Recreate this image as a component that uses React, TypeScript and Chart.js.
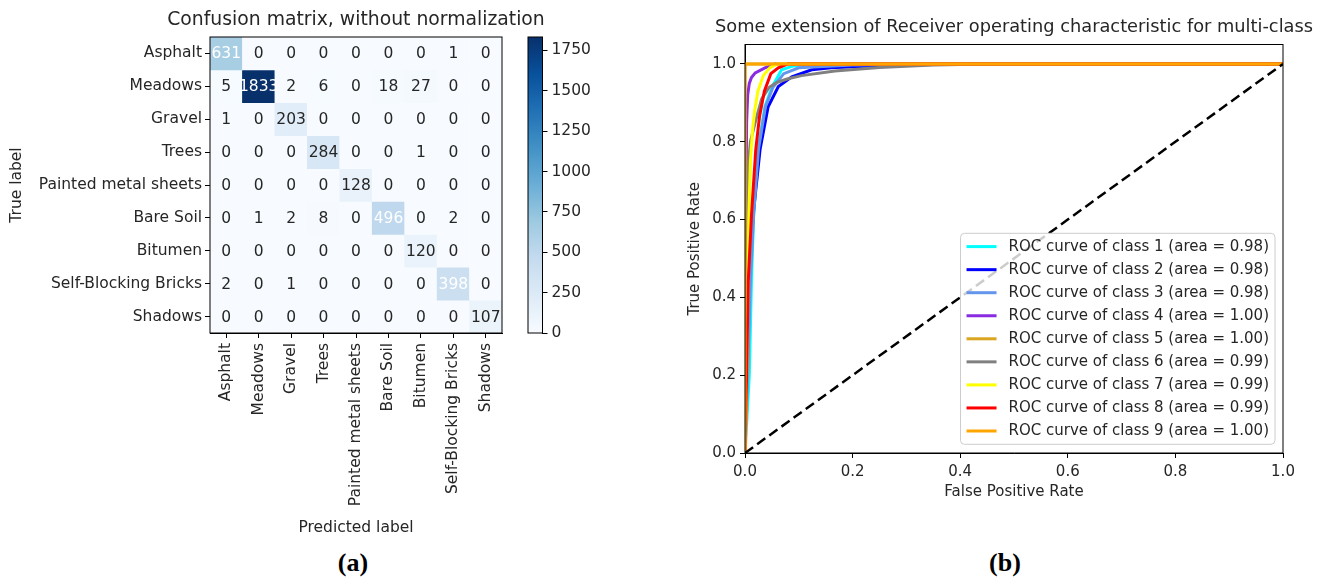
import React, { useEffect, useRef } from "react";
import { Chart, registerables } from "chart.js";

Chart.register(...registerables);

const TEXT = "#262626";
const FONT = "DejaVu Sans";

// ---------- Confusion matrix data ----------
const classLabels = [
  "Asphalt",
  "Meadows",
  "Gravel",
  "Trees",
  "Painted metal sheets",
  "Bare Soil",
  "Bitumen",
  "Self-Blocking Bricks",
  "Shadows",
];

const asphaltRow = [631, 0, 0, 0, 0, 0, 0, 1, 0];
const meadowsRow = [5, 1833, 2, 6, 0, 18, 27, 0, 0];
const gravelRow = [1, 0, 203, 0, 0, 0, 0, 0, 0];
const treesRow = [0, 0, 0, 284, 0, 0, 1, 0, 0];
const paintedRow = [0, 0, 0, 0, 128, 0, 0, 0, 0];
const bareSoilRow = [0, 1, 2, 8, 0, 496, 0, 2, 0];
const bitumenRow = [0, 0, 0, 0, 0, 0, 120, 0, 0];
const bricksRow = [2, 0, 1, 0, 0, 0, 0, 398, 0];
const shadowsRow = [0, 0, 0, 0, 0, 0, 0, 0, 107];

const confusionRows = [
  asphaltRow,
  meadowsRow,
  gravelRow,
  treesRow,
  paintedRow,
  bareSoilRow,
  bitumenRow,
  bricksRow,
  shadowsRow,
];

const colorbarTickValues = [0, 250, 500, 750, 1000, 1250, 1500, 1750];
const whiteTextThreshold = 350;

// ---------- ROC data ----------
const fpr1 = [0, 0.004, 0.008, 0.012, 0.016, 0.024, 0.037, 0.05, 0.068, 0.09, 0.2, 1];
const tpr1 = [0, 0.1, 0.2, 0.44, 0.61, 0.78, 0.89, 0.94, 0.985, 0.995, 1, 1];

const fpr2 = [0, 0.003, 0.008, 0.015, 0.028, 0.043, 0.062, 0.087, 0.124, 0.16, 0.25, 0.4, 1];
const tpr2 = [0, 0.2, 0.44, 0.61, 0.78, 0.89, 0.942, 0.967, 0.985, 0.99, 0.996, 1, 1];

const fpr3 = [0, 0.005, 0.01, 0.016, 0.025, 0.038, 0.052, 0.072, 0.1, 0.2, 0.35, 1];
const tpr3 = [0, 0.2, 0.44, 0.61, 0.78, 0.89, 0.94, 0.975, 0.99, 0.997, 1, 1];

const fpr4 = [0, 0.001, 0.003, 0.005, 0.008, 0.012, 0.019, 0.037, 0.056, 1];
const tpr4 = [0, 0.5, 0.85, 0.92, 0.95, 0.965, 0.977, 0.99, 1, 1];

const fpr5 = [0, 0, 1];
const tpr5 = [0, 1, 1];

const fpr6 = [0, 0.002, 0.005, 0.01, 0.019, 0.031, 0.045, 0.06, 0.08, 0.105, 0.167, 0.25, 0.35, 0.45, 1];
const tpr6 = [0, 0.5, 0.72, 0.8, 0.85, 0.91, 0.94, 0.953, 0.962, 0.97, 0.982, 0.991, 0.997, 1, 1];

const fpr7 = [0, 0.002, 0.004, 0.007, 0.01, 0.014, 0.018, 0.024, 0.034, 0.046, 0.06, 1];
const tpr7 = [0, 0.1, 0.27, 0.6, 0.75, 0.83, 0.88, 0.93, 0.97, 0.99, 1, 1];

const fpr8 = [0, 0.003, 0.006, 0.012, 0.02, 0.027, 0.036, 0.048, 0.062, 0.08, 1];
const tpr8 = [0, 0.2, 0.44, 0.61, 0.78, 0.865, 0.93, 0.975, 0.99, 1, 1];

const fpr9 = [0, 0, 1];
const tpr9 = [0, 1, 1];

const rocFpr = [fpr1, fpr2, fpr3, fpr4, fpr5, fpr6, fpr7, fpr8, fpr9];
const rocTpr = [tpr1, tpr2, tpr3, tpr4, tpr5, tpr6, tpr7, tpr8, tpr9];
const rocAreas = [0.98, 0.98, 0.98, 1.0, 1.0, 0.99, 0.99, 0.99, 1.0];
const rocColors = [
  "#00ffff",
  "#0000ff",
  "#6495ed",
  "#8a2be2",
  "#daa520",
  "#808080",
  "#ffff00",
  "#ff0000",
  "#ffa500",
];
const diagX = [0, 1];
const diagY = [0, 1];
const rocTickValues = [0, 0.2, 0.4, 0.6, 0.8, 1.0];

// ---------- helpers ----------
const BLUES = [
  [247, 251, 255],
  [222, 235, 247],
  [198, 219, 239],
  [158, 202, 225],
  [107, 174, 214],
  [66, 146, 198],
  [33, 113, 181],
  [8, 81, 156],
  [8, 48, 107],
];

function blues(t: number): string {
  const c = Math.max(0, Math.min(1, t)) * 8;
  const i = Math.min(7, Math.floor(c));
  const f = c - i;
  const a = BLUES[i];
  const b = BLUES[i + 1];
  const r = Math.round(a[0] + (b[0] - a[0]) * f);
  const g = Math.round(a[1] + (b[1] - a[1]) * f);
  const bl = Math.round(a[2] + (b[2] - a[2]) * f);
  return `rgb(${r},${g},${bl})`;
}

const cmMax = Math.max(...confusionRows.map((r) => Math.max(...r)));

const topTitlePlugin = {
  id: "topTitle",
  afterDraw(chart: any, _args: any, opts: any) {
    if (!opts || !opts.text) return;
    const { ctx, chartArea } = chart;
    ctx.save();
    ctx.font = `${opts.size}px "${FONT}"`;
    ctx.fillStyle = TEXT;
    ctx.textAlign = "center";
    ctx.textBaseline = "middle";
    ctx.fillText(opts.text, (chartArea.left + chartArea.right) / 2, chartArea.top - opts.offset);
    ctx.restore();
  },
};

const framePlugin = {
  id: "frame",
  afterDatasetsDraw(chart: any) {
    const { ctx, chartArea: a } = chart;
    ctx.save();
    ctx.strokeStyle = "#000";
    ctx.lineWidth = 1;
    ctx.strokeRect(a.left, a.top, a.right - a.left, a.bottom - a.top);
    ctx.restore();
  },
};

const cellTextPlugin = {
  id: "cellText",
  afterDatasetsDraw(chart: any) {
    const ctx = chart.ctx;
    ctx.save();
    ctx.font = `15.5px "${FONT}"`;
    ctx.textAlign = "center";
    ctx.textBaseline = "middle";
    confusionRows.forEach((row, i) => {
      const meta = chart.getDatasetMeta(i);
      row.forEach((v, j) => {
        const el = meta.data[j];
        if (!el) return;
        const p = el.getCenterPoint();
        ctx.fillStyle = v >= whiteTextThreshold ? "#ffffff" : TEXT;
        ctx.fillText(String(v), p.x, p.y + 1);
      });
    });
    ctx.restore();
  },
};

const rocLegendPlugin = {
  id: "rocLegend",
  afterDatasetsDraw(chart: any) {
    const { ctx, chartArea: a } = chart;
    const n = rocAreas.length;
    const ds = chart.data.datasets.slice(0, n);
    ctx.save();
    ctx.font = `15px "${FONT}"`;
    let maxW = 0;
    ds.forEach((d: any) => {
      maxW = Math.max(maxW, ctx.measureText(d.label).width);
    });
    const pad = 6;
    const handle = 30;
    const gap = 12;
    const rowGap = 23.05;
    const edge = 13.3;
    const boxW = pad + handle + gap + maxW + pad;
    const boxH = edge * 2 + rowGap * (n - 1);
    const right = a.right - 8;
    const bottom = a.bottom - 8.7;
    const left = right - boxW;
    const top = bottom - boxH;
    ctx.beginPath();
    ctx.roundRect(left, top, boxW, boxH, 4);
    ctx.fillStyle = "rgba(255,255,255,0.8)";
    ctx.fill();
    ctx.strokeStyle = "#cccccc";
    ctx.lineWidth = 1;
    ctx.stroke();
    ds.forEach((d: any, k: number) => {
      const cy = top + edge + k * rowGap;
      ctx.beginPath();
      ctx.moveTo(left + pad, cy);
      ctx.lineTo(left + pad + handle, cy);
      ctx.strokeStyle = d.borderColor;
      ctx.lineWidth = 3;
      ctx.stroke();
      ctx.fillStyle = TEXT;
      ctx.textAlign = "left";
      ctx.textBaseline = "middle";
      ctx.fillText(d.label, left + pad + handle + gap, cy + 0.5);
    });
    ctx.restore();
  },
};

const cmFont = { family: FONT, size: 15.5 };
const rocFont = { family: FONT, size: 15 };

export default function App() {
  const cmRef = useRef<HTMLCanvasElement>(null);
  const cbRef = useRef<HTMLCanvasElement>(null);
  const rocRef = useRef<HTMLCanvasElement>(null);

  useEffect(() => {
    const charts: any[] = [];

    // Confusion matrix heatmap
    if (cmRef.current) {
      charts.push(
        new Chart(cmRef.current, {
          type: "bar",
          data: {
            labels: classLabels,
            datasets: confusionRows.map((row, i) => ({
              label: classLabels[i],
              data: row.map(() => [i - 0.5, i + 0.5]),
              backgroundColor: row.map((v) => blues(v / cmMax)),
              borderWidth: 0,
              barPercentage: 1,
              categoryPercentage: 1,
              grouped: false,
            })),
          } as any,
          options: {
            animation: false,
            responsive: false,
            devicePixelRatio: 1,
            events: [],
            layout: { padding: { left: 4, top: 37, right: 58, bottom: 3.7 } },
            plugins: {
              legend: { display: false },
              tooltip: { enabled: false },
              topTitle: { text: "Confusion matrix, without normalization", size: 18.8, offset: 17 },
            } as any,
            scales: {
              x: {
                type: "category",
                offset: true,
                grid: {
                  display: true,
                  drawOnChartArea: false,
                  offset: false,
                  tickLength: 5,
                  tickColor: "#000",
                  tickWidth: 1,
                },
                border: { display: true, color: "#000" },
                ticks: {
                  autoSkip: false,
                  maxRotation: 90,
                  minRotation: 90,
                  padding: 5,
                  font: cmFont,
                  color: TEXT,
                },
                title: {
                  display: true,
                  text: "Predicted label",
                  font: cmFont,
                  color: TEXT,
                  padding: { top: 4, bottom: 4 },
                },
                afterFit: (s: any) => {
                  s.height = 208.3;
                },
              },
              y: {
                type: "linear",
                min: -0.5,
                max: 8.5,
                reverse: true,
                afterBuildTicks: (s: any) => {
                  s.ticks = classLabels.map((_, i) => ({ value: i }));
                },
                grid: {
                  display: true,
                  drawOnChartArea: false,
                  tickLength: 5,
                  tickColor: "#000",
                  tickWidth: 1,
                },
                border: { display: true, color: "#000" },
                ticks: {
                  autoSkip: false,
                  padding: 3,
                  font: cmFont,
                  color: TEXT,
                  callback: (v: any) => classLabels[v as number],
                },
                title: {
                  display: true,
                  text: "True label",
                  font: cmFont,
                  color: TEXT,
                  padding: { top: 4, bottom: 4 },
                },
                afterFit: (s: any) => {
                  s.width = 206;
                },
              },
            } as any,
          },
          plugins: [framePlugin, cellTextPlugin, topTitlePlugin],
        } as any)
      );
    }

    // Colorbar
    if (cbRef.current) {
      charts.push(
        new Chart(cbRef.current, {
          type: "bar",
          data: {
            labels: [""],
            datasets: [
              {
                data: [[0, cmMax]],
                backgroundColor: (c: any) => {
                  const chart = c.chart;
                  const ca = chart.chartArea;
                  if (!ca) return blues(0.5);
                  const g = chart.ctx.createLinearGradient(0, ca.bottom, 0, ca.top);
                  BLUES.forEach((col, k) => {
                    g.addColorStop(k / 8, `rgb(${col[0]},${col[1]},${col[2]})`);
                  });
                  return g;
                },
                borderWidth: 0,
                barPercentage: 1,
                categoryPercentage: 1,
              },
            ],
          } as any,
          options: {
            animation: false,
            responsive: false,
            devicePixelRatio: 1,
            events: [],
            layout: { padding: { left: 18, top: 37, right: 12.5, bottom: 27 } },
            plugins: { legend: { display: false }, tooltip: { enabled: false } },
            scales: {
              x: { display: false },
              y: {
                position: "right",
                min: 0,
                max: cmMax,
                afterBuildTicks: (s: any) => {
                  s.ticks = colorbarTickValues.map((v) => ({ value: v }));
                },
                grid: {
                  display: true,
                  drawOnChartArea: false,
                  tickLength: 5,
                  tickColor: "#000",
                  tickWidth: 1,
                },
                border: { display: true, color: "#000" },
                ticks: { padding: 4, font: cmFont, color: TEXT, callback: (v: any) => String(v) },
                afterFit: (s: any) => {
                  s.width = 55;
                },
              },
            } as any,
          },
          plugins: [framePlugin],
        } as any)
      );
    }

    // ROC curves
    if (rocRef.current) {
      const rocDatasets = rocFpr.map((fpr, i) => ({
        label: `ROC curve of class ${i + 1} (area = ${rocAreas[i].toFixed(2)})`,
        data: fpr.map((x, k) => ({ x, y: rocTpr[i][k] })),
        borderColor: rocColors[i],
        backgroundColor: rocColors[i],
        borderWidth: 3,
        pointRadius: 0,
        tension: 0,
        fill: false,
        order: rocFpr.length - i,
      }));
      const diag = {
        label: "chance",
        data: diagX.map((x, k) => ({ x, y: diagY[k] })),
        borderColor: "#000",
        backgroundColor: "#000",
        borderWidth: 2.5,
        borderDash: [10, 5],
        pointRadius: 0,
        tension: 0,
        fill: false,
        order: 0,
      };
      charts.push(
        new Chart(rocRef.current, {
          type: "line",
          data: { datasets: [...rocDatasets, diag] } as any,
          options: {
            animation: false,
            responsive: false,
            devicePixelRatio: 1,
            events: [],
            layout: { padding: { left: 2, top: 44.5, right: 53, bottom: 40.3 } },
            plugins: {
              legend: { display: false },
              tooltip: { enabled: false },
              topTitle: {
                text: "Some extension of Receiver operating characteristic for multi-class",
                size: 17.8,
                offset: 17.5,
              },
            } as any,
            scales: {
              x: {
                type: "linear",
                min: 0,
                max: 1,
                afterBuildTicks: (s: any) => {
                  s.ticks = rocTickValues.map((v) => ({ value: v }));
                },
                grid: {
                  display: true,
                  drawOnChartArea: false,
                  tickLength: 5,
                  tickColor: "#000",
                  tickWidth: 1,
                },
                border: { display: true, color: "#000" },
                ticks: {
                  padding: 5,
                  font: rocFont,
                  color: TEXT,
                  callback: (v: any) => Number(v).toFixed(1),
                },
                title: {
                  display: true,
                  text: "False Positive Rate",
                  font: rocFont,
                  color: TEXT,
                  padding: { top: 4, bottom: 4 },
                },
                afterFit: (s: any) => {
                  s.height = 51.7;
                },
              },
              y: {
                type: "linear",
                min: 0,
                max: 1.05,
                afterBuildTicks: (s: any) => {
                  s.ticks = rocTickValues.map((v) => ({ value: v }));
                },
                grid: {
                  display: true,
                  drawOnChartArea: false,
                  tickLength: 5,
                  tickColor: "#000",
                  tickWidth: 1,
                },
                border: { display: true, color: "#000" },
                ticks: {
                  padding: 4,
                  font: rocFont,
                  color: TEXT,
                  callback: (v: any) => Number(v).toFixed(1),
                },
                title: {
                  display: true,
                  text: "True Positive Rate",
                  font: rocFont,
                  color: TEXT,
                  padding: { top: 4, bottom: 4 },
                },
                afterFit: (s: any) => {
                  s.width = 63;
                },
              },
            } as any,
          },
          plugins: [framePlugin, rocLegendPlugin, topTitlePlugin],
        } as any)
      );
    }

    return () => {
      charts.forEach((c) => c.destroy());
    };
  }, []);

  const capStyle: any = {
    position: "absolute",
    width: 100,
    textAlign: "center",
    fontFamily: '"Liberation Serif", serif',
    fontWeight: "bold",
    fontSize: 26,
    lineHeight: "30px",
    color: "#000",
  };

  return (
    <div
      style={{
        position: "fixed",
        left: 0,
        top: 0,
        width: 1336,
        height: 581,
        background: "#fff",
        overflow: "hidden",
      }}
    >
      <canvas ref={cmRef} width={560} height={545} style={{ position: "absolute", left: 0, top: 0 }} />
      <canvas ref={cbRef} width={100} height={360} style={{ position: "absolute", left: 510, top: 0 }} />
      <canvas ref={rocRef} width={656} height={545} style={{ position: "absolute", left: 680, top: 0 }} />
      <div style={{ ...capStyle, left: 303, top: 548 }}>(a)</div>
      <div style={{ ...capStyle, left: 955, top: 548 }}>(b)</div>
    </div>
  );
}
